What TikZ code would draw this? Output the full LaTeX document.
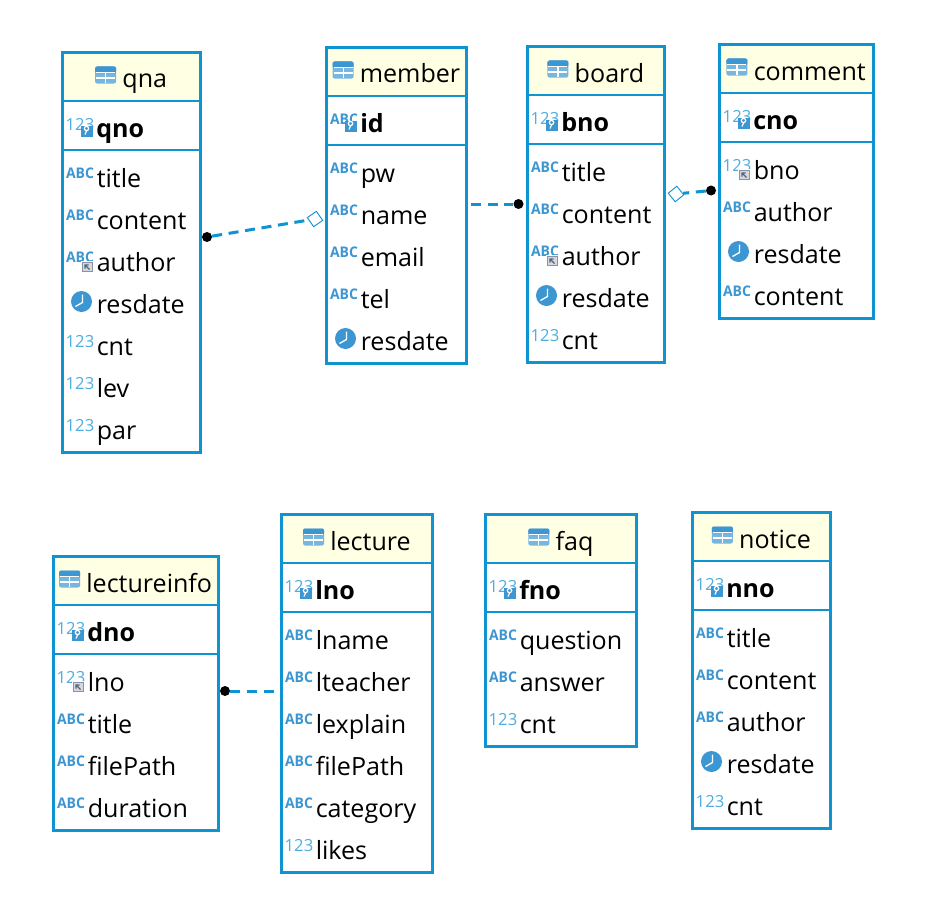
\documentclass[tikz,border=0pt]{standalone}
\usepackage{fontspec}
\setmainfont{Open Sans}
\usetikzlibrary{shapes.geometric}
\definecolor{erdline}{HTML}{0F94D2}
\definecolor{erdhead}{HTML}{FFFFE3}
\definecolor{erdicon}{HTML}{3C96D2}
\definecolor{erdnum}{HTML}{4FAEE0}
\definecolor{erdref}{HTML}{56657E}
\tikzset{
    tablebox/.style={draw=erdline,line width=2.25pt,inner sep=0pt,outer sep=0pt},
    sepline/.style={draw=erdline,line width=1.5pt},
    headtext/.style={anchor=base,inner sep=0pt,font=\fontsize{18.8pt}{20pt}\selectfont},
    rowtext/.style={anchor=base west,inner sep=0pt,font=\fontsize{18.8pt}{20pt}\selectfont},
    keytext/.style={rowtext,font=\fontsize{18.8pt}{20pt}\selectfont\bfseries},
    abctext/.style={inner sep=0pt,text=erdicon,xscale=.95,font=\fontsize{11pt}{12pt}\selectfont\bfseries},
    numtext/.style={inner sep=0pt,text=erdnum,font=\fontsize{12.5pt}{13pt}\selectfont},
    fkline/.style={draw=erdline,line width=2.25pt,dash pattern=on 7.5pt off 5pt},
    fkdot/.style={circle,fill=black,inner sep=0pt,minimum size=7.5pt},
    fkdia/.style={diamond,draw=erdline,fill=white,line width=.7pt,inner sep=0pt,minimum size=12pt,aspect=1},
    tblicon/.pic={
        \fill[erdicon!70,rounded corners=1.5pt] (0,-8.5) rectangle (21,8.5);
        \fill[erdicon,rounded corners=1.5pt] (0,-8.5) rectangle (21,-2);
        \draw[white,line width=.8pt] (1,-2.5) -- (20,-2.5) (1,3) -- (20,3) (10.5,-2.5) -- (10.5,8);
    },
    icona/.pic={\node[abctext] (-t) at (17.5,-5) {ABC};},
    iconn/.pic={\node[numtext] (-t) at (17.5,-5) {123};},
    iconc/.pic={
        \fill[erdicon] (19,-3) circle (10.5);
        \draw[white,line width=1pt] (20,-10) -- (20,-2) -- (13,2);
    },
    keybadge/.pic={
        \fill[erdicon] (18,-4) rectangle (30,7);
        \draw[white,line width=.9pt] (24,-1) circle (2.2) (24,1.5) -- (22.5,5);
    },
    refbadge/.pic={
        \fill[white] (18,-2) rectangle (31,10);
        \draw[erdref!70,fill=erdref!25,line width=.8pt] (20,0) rectangle (30,9);
        \draw[erdref,line width=.9pt] (27,7) -- (22.5,2.5) (22.5,6) -- (22.5,2.5) -- (26,2.5);
    },
    iconk/.pic={\pic {iconn}; \pic {keybadge};},
    iconj/.pic={\pic {icona}; \pic {keybadge};},
    iconr/.pic={\pic {icona}; \pic {refbadge};},
    icons/.pic={\pic {iconn}; \pic {refbadge};},
}
% name, left, top, right, bottom, key icon, key column, other columns
\newcommand{\erdtable}[8]{
    \fill[erdhead] (#2,#3) rectangle (#4,#3+48.5);
    \node[tablebox,minimum width=(#4-#2)*0.75pt,minimum height=(#5-#3)*0.75pt] (#1) at ({(#2+#4)/2},{(#3+#5)/2}) {};
    \draw[sepline] (#2,#3+48.5) -- (#4,#3+48.5);
    \draw[sepline] (#2,#3+97.5) -- (#4,#3+97.5);
    \node[headtext] (#1-head) at ({(#2+#4)/2+13.5},#3+35.5) {#1};
    \pic (#1-tbl) at ([xshift=-20.25pt,yshift=9.75pt]#1-head.base west) {tblicon};
    \pic (#1-keyicon) at (#2,#3+77) {icon#6};
    \node[keytext] (#1-key) at (#2+33.5,#3+85) {#7};
    \foreach \ty/\txt [count=\i] in {#8} {
        \pic (#1-icon\i) at (#2,#3+84+42*\i) {icon\ty};
        \node[rowtext] (#1-col\i) at (#2+34,#3+93+42*\i) {\txt};
    }
}
\begin{document}
\begin{tikzpicture}[x=0.75pt,y=-0.75pt]
    \useasboundingbox (0,0) rectangle (930,917);
    \fill[white] (0,0) rectangle (930,917);

    \erdtable{qna}{62.5}{52.5}{200}{452}{k}{qno}{a/title,a/content,r/author,c/resdate,n/cnt,n/lev,n/par}
    \erdtable{member}{326.5}{47.5}{466.5}{363}{j}{id}{a/pw,a/name,a/email,a/tel,c/resdate}
    \erdtable{board}{527.5}{46.5}{664.5}{362}{k}{bno}{a/title,a/content,r/author,c/resdate,n/cnt}
    \erdtable{comment}{719.5}{44.5}{873}{318.5}{k}{cno}{s/bno,a/author,c/resdate,a/content}
    \erdtable{lectureinfo}{53.5}{556.5}{218}{830}{k}{dno}{s/lno,a/title,a/filePath,a/duration}
    \erdtable{lecture}{281.5}{514.5}{432.5}{872.5}{k}{lno}{a/lname,a/lteacher,a/lexplain,a/filePath,a/category,n/likes}
    \erdtable{faq}{485.5}{514.5}{636.5}{746}{k}{fno}{a/question,a/answer,n/cnt}
    \erdtable{notice}{692.5}{512.5}{830.5}{828.5}{k}{nno}{a/title,a/content,a/author,c/resdate,n/cnt}

    % relations
    \node[fkdot] (qna-dot) at (207,237) {};
    \node[fkdia,rotate=-10] (member-dia) at (315,219) {};
    \draw[fkline] (qna-dot) -- (member-dia);

    \node[fkdot] (board-dot) at (518.5,204) {};
    \coordinate (member-end) at (471,204);
    \draw[fkline] (member-end) -- (board-dot);

    \node[fkdot] (comment-dot) at (711,190.5) {};
    \node[fkdia,rotate=-6] (board-dia) at (676,194) {};
    \draw[fkline] (comment-dot) -- (board-dia);

    \node[fkdot] (info-dot) at (225,691) {};
    \coordinate (lecture-end) at (276,691);
    \draw[fkline] (info-dot) -- (lecture-end);
\end{tikzpicture}
\end{document}
